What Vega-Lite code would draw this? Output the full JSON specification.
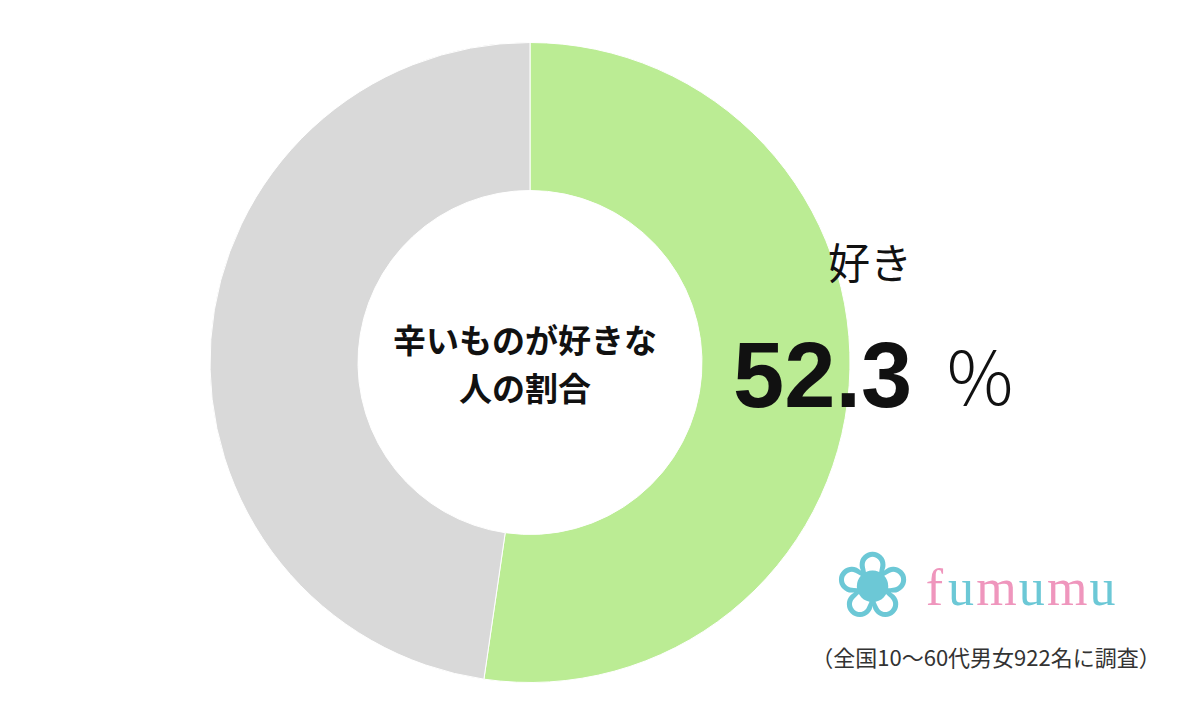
{
  "$schema": "https://vega.github.io/schema/vega-lite/v6.json",
  "width": 1060,
  "height": 709,
  "autosize": {"type": "none"},
  "padding": {"left": 0, "right": 140, "top": 8, "bottom": 0},
  "background": "white",
  "config": {"view": {"stroke": null}},
  "data": {
    "values": [
      {"label": "好き", "value": 52.3, "order": 1},
      {"label": "それ以外", "value": 47.7, "order": 2}
    ]
  },
  "layer": [
    {
      "mark": {"type": "arc", "outerRadius": 320, "innerRadius": 172, "stroke": "white", "strokeWidth": 1},
      "encoding": {
        "theta": {"field": "value", "type": "quantitative", "stack": true},
        "order": {"field": "order", "type": "quantitative"},
        "color": {
          "field": "label",
          "type": "nominal",
          "scale": {"domain": ["好き", "それ以外"], "range": ["#bbec94", "#d9d9d9"]},
          "legend": null
        }
      }
    },
    {
      "mark": {"type": "text", "radius": 340, "align": "center", "baseline": "middle", "dx": 1, "dy": -121, "font": "Noto Sans CJK JP", "fontSize": 42, "color": "#111111"},
      "encoding": {
        "theta": {"field": "value", "type": "quantitative", "stack": true},
        "order": {"field": "order", "type": "quantitative"},
        "text": {"condition": {"test": "datum.label === '好き'", "field": "label"}, "value": ""}
      }
    },
    {
      "mark": {"type": "text", "radius": 340, "align": "right", "baseline": "alphabetic", "dx": 43, "dy": 20, "font": "Liberation Sans", "fontWeight": "bold", "fontSize": 92, "color": "#111111"},
      "encoding": {
        "theta": {"field": "value", "type": "quantitative", "stack": true},
        "order": {"field": "order", "type": "quantitative"},
        "text": {"condition": {"test": "datum.label === '好き'", "field": "value", "format": ".1f"}, "value": ""}
      }
    },
    {
      "mark": {"type": "text", "radius": 340, "align": "left", "baseline": "alphabetic", "dx": 74, "dy": 19, "font": "Noto Sans CJK JP", "fontWeight": 300, "fontSize": 74, "color": "#111111"},
      "encoding": {
        "theta": {"field": "value", "type": "quantitative", "stack": true},
        "order": {"field": "order", "type": "quantitative"},
        "text": {"condition": {"test": "datum.label === '好き'", "value": "％"}, "value": ""}
      }
    },
    {
      "data": {"values": [{"title": "辛いものが好きな\n人の割合"}]},
      "mark": {"type": "text", "align": "center", "baseline": "middle", "lineBreak": "\n", "lineHeight": 48, "dx": -5, "dy": -20, "font": "Noto Sans CJK JP", "fontWeight": "bold", "fontSize": 33, "color": "#111111"},
      "encoding": {"text": {"field": "title"}}
    },
    {
      "data": {"values": [{"i": 0, "glyph": "❀"}]},
      "mark": {"type": "text", "align": "center", "baseline": "middle", "dy": 226, "font": "DejaVu Sans", "fontSize": 92, "color": "#6cc8d6"},
      "encoding": {
        "x": {"field": "i", "type": "ordinal", "scale": {"type": "point", "domain": [0,1,2,3,4,5,6,7,8,9,10,11,12,13,14,15,16,17,18,19,20,21,22,23,24,25,26], "range": [868, 1107]}, "axis": null},
        "text": {"field": "glyph"}
      }
    },
    {
      "data": {
        "values": [
          {"i": 7, "ch": "f", "tone": "pink"},
          {"i": 10, "ch": "u", "tone": "blue"},
          {"i": 14, "ch": "m", "tone": "pink"},
          {"i": 18, "ch": "u", "tone": "blue"},
          {"i": 22, "ch": "m", "tone": "pink"},
          {"i": 26, "ch": "u", "tone": "blue"}
        ]
      },
      "mark": {"type": "text", "align": "center", "baseline": "alphabetic", "dy": 242, "font": "Liberation Serif", "fontSize": 52},
      "encoding": {
        "x": {"field": "i", "type": "ordinal", "scale": {"type": "point", "domain": [0,1,2,3,4,5,6,7,8,9,10,11,12,13,14,15,16,17,18,19,20,21,22,23,24,25,26], "range": [868, 1107]}, "axis": null},
        "text": {"field": "ch"},
        "color": {"condition": {"test": "datum.tone === 'pink'", "value": "#ef96bd"}, "value": "#6cc8d6"}
      }
    },
    {
      "data": {"values": [{"note": "（全国10〜60代男女922名に調査）"}]},
      "mark": {"type": "text", "align": "center", "baseline": "middle", "dx": 456, "dy": 296, "font": "Noto Sans CJK JP", "fontSize": 22, "color": "#333333"},
      "encoding": {"text": {"field": "note"}}
    }
  ]
}
